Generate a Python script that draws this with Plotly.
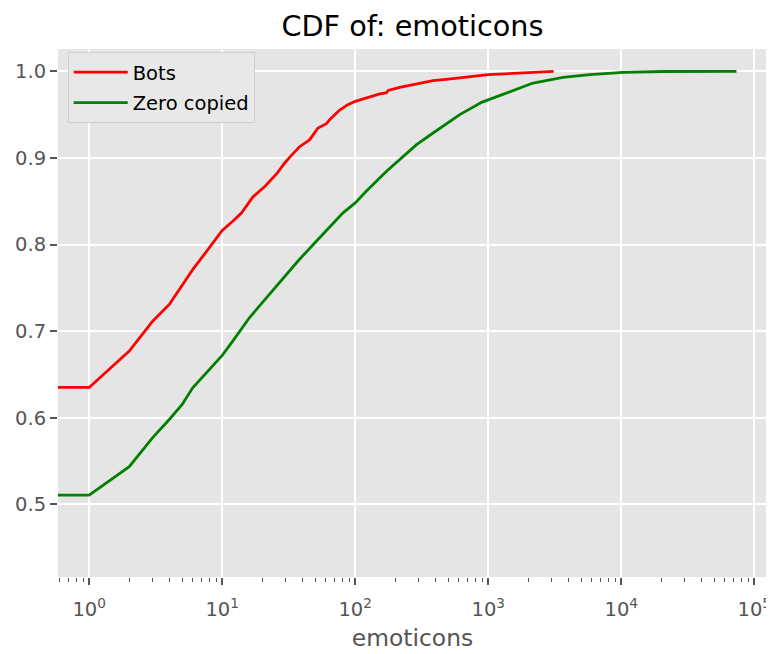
import plotly.graph_objects as go

# ---- data ----
bots_x = [0.5, 1, 2, 3, 4, 5, 6, 7, 8, 9, 10, 12, 14, 17, 21, 26, 29.5, 33, 38, 45.5,
          52.5, 60.7, 65, 76, 88, 100, 121, 153, 171, 177, 216, 289, 385, 544, 1000,
          2000, 3100]
bots_y = [0.635, 0.635, 0.677, 0.7115, 0.7308, 0.753, 0.771, 0.7845, 0.7962, 0.806,
          0.8163, 0.8269, 0.8366, 0.855, 0.8673, 0.8827, 0.8942, 0.9027, 0.9127, 0.9211,
          0.9346, 0.9396, 0.945, 0.955, 0.9615, 0.9654, 0.9692, 0.9739, 0.975, 0.978,
          0.9815, 0.9854, 0.9892, 0.9915, 0.9961, 0.9985, 1.0]

zero_x = [0.5, 1, 2, 3, 4, 5, 6, 7, 8, 9, 10, 12, 16, 19, 27, 38, 51, 68, 81, 100,
          121, 172, 216, 289, 385, 611, 900, 1371, 2172, 3650, 5800, 10300, 20600, 73500]
zero_y = [0.5107, 0.5107, 0.5435, 0.577, 0.598, 0.6154, 0.6346, 0.6459, 0.6557, 0.6643,
          0.672, 0.6884, 0.7154, 0.7288, 0.7558, 0.7827, 0.8038, 0.825, 0.8366, 0.8481,
          0.8615, 0.8846, 0.898, 0.9154, 0.9288, 0.95, 0.9645, 0.975, 0.9865, 0.993,
          0.9961, 0.9988, 0.9998, 1.0]

x_tickvals = [1, 10, 100, 1000, 10000, 100000]
x_ticktext = ["10<sup>0</sup>", "10<sup>1</sup>", "10<sup>2</sup>",
              "10<sup>3</sup>", "10<sup>4</sup>", "10<sup>5</sup>"]
y_tickvals = [0.5, 0.6, 0.7, 0.8, 0.9, 1.0]
y_ticktext = ["0.5", "0.6", "0.7", "0.8", "0.9", "1.0"]

minor_vals = [m * 10 ** e for e in range(-1, 5) for m in range(2, 10)]

FONT = "DejaVu Sans"
TICKC = "#555555"
W, H = 766, 646   # page body adds an 8px offset in the 774x654 window

fig = go.Figure()
fig.add_trace(go.Scatter(x=bots_x, y=bots_y, mode="lines", name="Bots",
                         legendgroup="a",
                         line=dict(color="#ff0000", width=2.8)))
fig.add_trace(go.Scatter(x=zero_x, y=zero_y, mode="lines", name="Zero copied",
                         legendgroup="b",
                         line=dict(color="#008000", width=2.8)))

fig.update_layout(
    width=W, height=H,
    margin=dict(l=50.3, r=6.7, t=41.3, b=76.5, autoexpand=False),
    paper_bgcolor="white",
    plot_bgcolor="#e5e5e5",
    font=dict(family=FONT, size=19.5, color=TICKC),
    title=dict(text="CDF of: emoticons", x=0.5, xref="paper", xanchor="center",
               y=1 - 17.5 / H, yref="container", yanchor="middle",
               font=dict(family=FONT, size=28.7, color="#000000"),
               automargin=False),
    showlegend=True,
    legend=dict(x=0.0137, y=0.9943, xanchor="left", yanchor="top",
                bgcolor="#e8e8e8", bordercolor="#cfcfcf", borderwidth=1,
                font=dict(family=FONT, size=19.5, color="#000000"),
                itemwidth=54, tracegroupgap=2),
    xaxis=dict(
        type="log", range=[-0.2346, 5.096], automargin=False,
        tickmode="array", tickvals=x_tickvals, ticktext=x_ticktext,
        ticks="outside", ticklen=7, tickwidth=1.5, tickcolor=TICKC,
        tickfont=dict(family=FONT, size=19.5, color=TICKC),
        ticklabelstandoff=8,
        ticklabeloverflow="allow",
        showgrid=True, gridcolor="white", gridwidth=1.5,
        zeroline=False, showline=False,
        minor=dict(tickmode="array", tickvals=minor_vals, ticks="outside",
                   ticklen=4, tickwidth=1.2, tickcolor=TICKC, showgrid=False),
        title=dict(text="emoticons", font=dict(family=FONT, size=23.4, color=TICKC),
                   standoff=9),
    ),
    yaxis=dict(
        range=[0.4161, 1.0258], automargin=False,
        tickmode="array", tickvals=y_tickvals, ticktext=y_ticktext,
        ticks="outside", ticklen=7, tickwidth=1.5, tickcolor=TICKC,
        tickfont=dict(family=FONT, size=19.5, color=TICKC),
        showgrid=True, gridcolor="white", gridwidth=1.5,
        zeroline=False, showline=False,
    ),
)

fig.write_html("out.html")
